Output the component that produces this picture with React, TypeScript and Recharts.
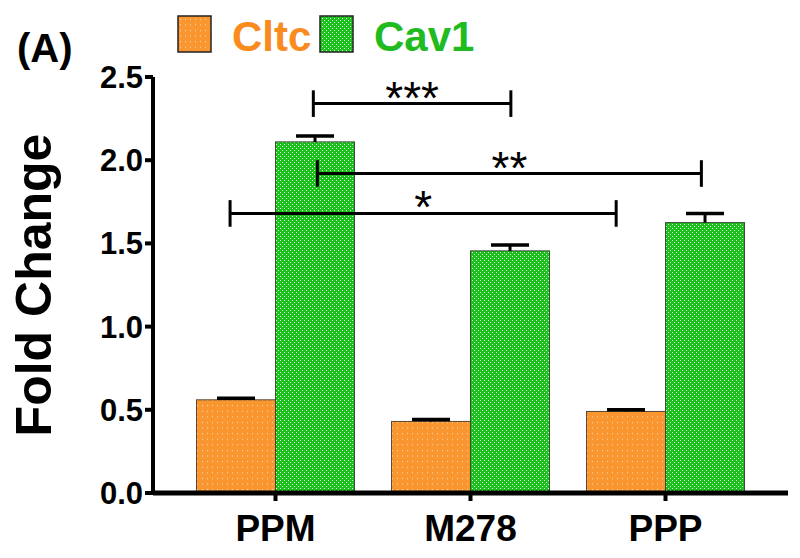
import React from "react";
import {
  BarChart,
  Bar,
  XAxis,
  YAxis,
  ReferenceLine,
  ReferenceDot,
} from "recharts";

const categories = ["PPM", "M278", "PPP"];
const cltc = [0.56, 0.43, 0.49];
const cltcErr = [0.01, 0.012, 0.01];
const cav1 = [2.11, 1.455, 1.625];
const cav1Err = [0.035, 0.035, 0.055];
const yTicks = [0, 0.5, 1.0, 1.5, 2.0, 2.5];

// significance brackets, x on a 0..3 category scale
const sigX1 = [0.694, 0.715, 0.267];
const sigX2 = [1.707, 2.684, 2.247];
const sigY = [2.34, 1.92, 1.68];
const sigLabel = ["***", "**", "*"];

const FONT = "'Liberation Sans', Arial, sans-serif";
const ORANGE = "#F9962F";
const GREEN = "#1CC21C";

const data = categories.map((name, i) => ({
  name,
  pos: i + 0.5,
  cltc: cltc[i],
  cltcErr: cltcErr[i],
  cav1: cav1[i],
  cav1Err: cav1Err[i],
}));

const brackets = sigLabel.map((label, i) => ({
  x1: sigX1[i],
  x2: sigX2[i],
  y: sigY[i],
  label,
}));

const Patterns = ({ suffix }: { suffix: string }) => (
  <defs>
    <pattern id={`pOrange${suffix}`} width="5" height="5.6" patternUnits="userSpaceOnUse">
      <rect width="5" height="5.6" fill={ORANGE} />
      <rect x="2" y="2" width="1" height="1" fill="#FDDDB8" />
    </pattern>
    <pattern id={`pGreen${suffix}`} width="4" height="4" patternUnits="userSpaceOnUse">
      <rect width="4" height="4" fill={GREEN} />
      <rect x="0" y="0" width="1" height="1" fill="#E6FCE6" />
      <rect x="2" y="2" width="1" height="1" fill="#E6FCE6" />
    </pattern>
  </defs>
);

const legendItems = [
  { name: "Cltc", fill: "url(#pOrangeL)", color: "#F98B1F" },
  { name: "Cav1", fill: "url(#pGreenL)", color: "#1FBB1F" },
];

// bar rectangle plus an upward-only SEM whisker (GraphPad style)
const makeBarShape = (valueKey: string, errKey: string, fill: string, stroke: string) => (p: any) => {
  const { x, y, width, height, payload } = p;
  const v = payload[valueKey];
  const e = payload[errKey];
  const pxPerUnit = v ? height / v : 0;
  const cx = x + width / 2;
  const yTop = y - e * pxPerUnit;
  return (
    <g>
      <rect x={x} y={y} width={width} height={height} fill={fill} stroke={stroke} strokeWidth={1} />
      <line x1={cx} x2={cx} y1={y} y2={yTop} stroke="#000" strokeWidth={3} />
      <line x1={cx - 19} x2={cx + 19} y1={yTop} y2={yTop} stroke="#000" strokeWidth={3.5} />
    </g>
  );
};

const YLabel = ({ viewBox }: any) => {
  const cx = 34;
  const cy = viewBox.y + viewBox.height / 2;
  return (
    <text
      x={cx}
      y={cy}
      transform={`rotate(-90 ${cx} ${cy})`}
      textAnchor="middle"
      dominantBaseline="central"
      fontFamily={FONT}
      fontWeight="bold"
      fontSize={50}
      fill="#000"
    >
      Fold Change
    </text>
  );
};

export default function App() {
  return (
    <div style={{ position: "absolute", left: 0, top: 0, width: 800, height: 558, background: "#fff" }}>
      <BarChart
        width={800}
        height={558}
        data={data}
        margin={{ top: 77, right: 12, bottom: 0, left: 0 }}
        barCategoryGap="9.5%"
        barGap={0}
      >
        <Patterns suffix="" />
        <XAxis
          dataKey="name"
          height={65}
          padding={{ left: 25, right: 25 }}
          axisLine={{ stroke: "#000", strokeWidth: 5 }}
          tickLine={{ stroke: "#000", strokeWidth: 4 }}
          tickSize={8}
          tickMargin={14}
          tick={{ fill: "#000", fontSize: 37, fontWeight: "bold", fontFamily: FONT }}
        />
        <XAxis
          xAxisId="sig"
          dataKey="pos"
          type="number"
          domain={[0, 3]}
          allowDataOverflow
          padding={{ left: 25, right: 25 }}
          height={0}
          hide
        />
        <YAxis
          width={153}
          domain={[0, 2.5]}
          ticks={yTicks}
          tickFormatter={(v: number) => v.toFixed(1)}
          axisLine={{ stroke: "#000", strokeWidth: 4 }}
          tickLine={{ stroke: "#000", strokeWidth: 4 }}
          tickSize={8}
          tickMargin={2}
          tick={{ fill: "#000", fontSize: 31, fontWeight: "bold", fontFamily: FONT }}
          label={<YLabel />}
        />
        <Bar
          dataKey="cltc"
          isAnimationActive={false}
          shape={makeBarShape("cltc", "cltcErr", "url(#pOrange)", "#5a4630")}
        />
        <Bar
          dataKey="cav1"
          isAnimationActive={false}
          shape={makeBarShape("cav1", "cav1Err", "url(#pGreen)", "#3a4a3a")}
        />
        {brackets.map((b, i) => (
          <ReferenceLine
            key={`h${i}`}
            xAxisId="sig"
            segment={[{ x: b.x1, y: b.y }, { x: b.x2, y: b.y }]}
            stroke="#000"
            strokeWidth={3}
          />
        ))}
        {brackets.map((b, i) => (
          <ReferenceLine
            key={`l${i}`}
            xAxisId="sig"
            segment={[{ x: b.x1, y: b.y - 0.08 }, { x: b.x1, y: b.y + 0.08 }]}
            stroke="#000"
            strokeWidth={3}
          />
        ))}
        {brackets.map((b, i) => (
          <ReferenceLine
            key={`r${i}`}
            xAxisId="sig"
            segment={[{ x: b.x2, y: b.y - 0.08 }, { x: b.x2, y: b.y + 0.08 }]}
            stroke="#000"
            strokeWidth={3}
          />
        ))}
        {brackets.map((b, i) => (
          <ReferenceDot
            key={`t${i}`}
            xAxisId="sig"
            x={(b.x1 + b.x2) / 2}
            y={b.y}
            r={0}
            shape={(p: any) => (
              <text
                x={p.cx}
                y={p.cy + 10}
                textAnchor="middle"
                fontFamily={FONT}
                fontSize={46}
                fill="#000"
              >
                {b.label}
              </text>
            )}
          />
        ))}
      </BarChart>
      <svg
        width={800}
        height={558}
        style={{ position: "absolute", left: 0, top: 0, pointerEvents: "none" }}
      >
        <Patterns suffix="L" />
        <text x={17} y={62} fontFamily={FONT} fontWeight="bold" fontSize={40} fill="#000">
          (A)
        </text>
        {legendItems.map((it, i) => (
          <g key={it.name} transform={`translate(${178 + i * 142}, 0)`}>
            <rect x={0} y={16} width={33} height={36} fill={it.fill} stroke="#222" strokeWidth={1.5} />
            <text x={54} y={51} fontFamily={FONT} fontWeight="bold" fontSize={42} fill={it.color}>
              {it.name}
            </text>
          </g>
        ))}
      </svg>
    </div>
  );
}
